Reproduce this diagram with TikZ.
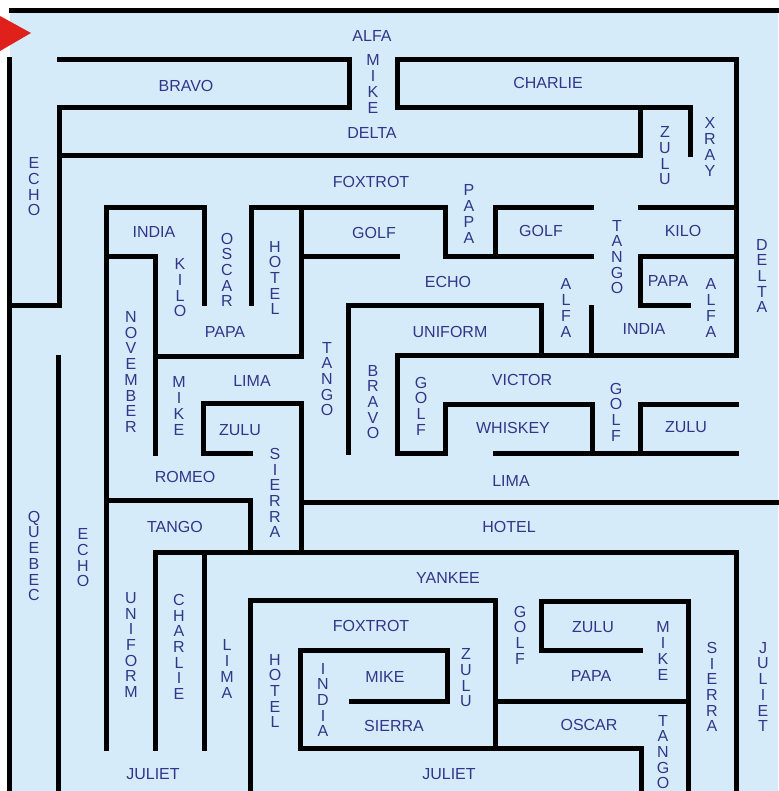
\documentclass[tikz,border=0pt]{standalone}
\usepackage{fontspec}
\setmainfont{Liberation Sans}
\definecolor{fond}{RGB}{214,235,249}
\definecolor{encre}{RGB}{48,54,138}
\definecolor{fleche}{RGB}{224,32,27}
\newcommand{\vlab}[3]{\node[lab,align=center] (#1) at (#2) {#3}}
\newcommand{\hlab}[3]{\node[lab] (#1) at (#2) {#3}}

\begin{document}
\begin{tikzpicture}[x=1pt,y=-1pt,
	wall/.style={line width=5pt,line cap=rect,line join=miter},
	lab/.style={text=encre,inner sep=0pt,font=\fontsize{16}{15.7}\selectfont}]
	\useasboundingbox (0,0) rectangle (778,791);
	\fill[fond] (10,11) rectangle (778,791);
	\fill[fleche] (0,16) -- (31,33) -- (0,51) -- cycle;
	% outer walls
	\draw[wall] (11,11) -- (778,11);
	\draw[wall] (9.5,60) -- (9.5,791);
	% top part
	\draw[wall] (59,60) -- (349,60) -- (349,108) -- (59,108) -- (59,305) -- (9.5,305);
	\draw[wall] (397,108) -- (397,60) -- (736,60) -- (736,355) -- (397,355) -- (397,453) -- (445,453) -- (445,404) -- (592,404) -- (592,453);
	\draw[wall] (397,108) -- (690,108) -- (690,155);
	\draw[wall] (640,108) -- (640,156) -- (59,156);
	% middle part
	\draw[wall] (204,303) -- (204,208) -- (106,208) -- (106,748);
	\draw[wall] (106,257) -- (155,257) -- (155,453);
	\draw[wall] (251,303) -- (251,208) -- (445,208) -- (445,257) -- (591,257);
	\draw[wall] (155,356) -- (301,356) -- (301,208);
	\draw[wall] (301,257) -- (397,257);
	\draw[wall] (591,208) -- (495,208) -- (495,257);
	\draw[wall] (640,208) -- (736,208);
	\draw[wall] (736,257) -- (640,257) -- (640,305) -- (688,305);
	\draw[wall] (348,452) -- (348,305) -- (541,305) -- (541,355);
	\draw[wall] (591,307) -- (591,355);
	\draw[wall] (495,453) -- (736,453);
	\draw[wall] (640,453) -- (640,404) -- (736,404);
	\draw[wall] (250,453) -- (203,453) -- (203,403) -- (301,403) -- (301,552);
	\draw[wall] (301,502) -- (778,502);
	\draw[wall] (106,500) -- (250,500) -- (250,552);
	% bottom part
	\draw[wall] (155,748) -- (155,552) -- (736,552) -- (736,791);
	\draw[wall] (58,357) -- (58,791);
	\draw[wall] (204,552) -- (204,748);
	\draw[wall] (250,791) -- (250,600) -- (495,600) -- (495,748);
	\draw[wall] (351,701) -- (447,701) -- (447,650) -- (300,650) -- (300,748) -- (641,748) -- (641,791);
	\draw[wall] (495,701) -- (688,701);
	\draw[wall] (640,650) -- (541,650) -- (541,601) -- (688,601) -- (688,791);
	% labels
	\hlab{alfa}{372,36}{ALFA};
	\vlab{mikeA}{373,84}{M\\I\\K\\E};
	\hlab{bravo}{186,86}{BRAVO};
	\hlab{charlie}{548,83}{CHARLIE};
	\hlab{deltaA}{372,133}{DELTA};
	\vlab{zuluA}{665,156}{Z\\U\\L\\U};
	\vlab{xray}{710,147}{X\\R\\A\\Y};
	\vlab{echoA}{34,187}{E\\C\\H\\O};
	\hlab{foxtrotA}{371,182}{FOXTROT};
	\vlab{papaA}{469,214}{P\\A\\P\\A};
	\hlab{india}{154,232}{INDIA};
	\vlab{oscar}{227,270}{O\\S\\C\\A\\R};
	\vlab{hotelA}{275,278}{H\\O\\T\\E\\L};
	\hlab{golfA}{374,233}{GOLF};
	\hlab{golfB}{541,231}{GOLF};
	\vlab{tangoA}{617,257}{T\\A\\N\\G\\O};
	\hlab{kiloA}{683,231}{KILO};
	\vlab{kiloB}{180,288}{K\\I\\L\\O};
	\vlab{deltaB}{762,276}{D\\E\\L\\T\\A};
	\hlab{echoB}{448,282}{ECHO};
	\hlab{papaB}{668,281}{PAPA};
	\vlab{alfaB}{566,308}{A\\L\\F\\A};
	\vlab{alfaC}{711,308}{A\\L\\F\\A};
	\hlab{papaC}{225,332}{PAPA};
	\hlab{uniformA}{450,332}{UNIFORM};
	\hlab{indiaB}{644,329}{INDIA};
	\vlab{november}{131,372}{N\\O\\V\\E\\M\\B\\E\\R};
	\vlab{mikeB}{179,406}{M\\I\\K\\E};
	\hlab{limaA}{252,381}{LIMA};
	\vlab{tangoB}{327,379}{T\\A\\N\\G\\O};
	\vlab{bravoB}{373,402}{B\\R\\A\\V\\O};
	\hlab{victor}{522,380}{VICTOR};
	\vlab{golfC}{421,406}{G\\O\\L\\F};
	\vlab{golfD}{616,412}{G\\O\\L\\F};
	\hlab{zuluB}{240,430}{ZULU};
	\hlab{whiskey}{513,428}{WHISKEY};
	\hlab{zuluC}{686,427}{ZULU};
	\hlab{romeo}{185,477}{ROMEO};
	\vlab{sierraA}{275,493}{S\\I\\E\\R\\R\\A};
	\hlab{limaB}{511,481}{LIMA};
	\hlab{tangoC}{175,527}{TANGO};
	\hlab{hotelB}{509,527}{HOTEL};
	\vlab{quebec}{34,556}{Q\\U\\E\\B\\E\\C};
	\vlab{echoC}{83,558}{E\\C\\H\\O};
	\hlab{yankee}{448,578}{YANKEE};
	\vlab{uniformB}{131,645}{U\\N\\I\\F\\O\\R\\M};
	\vlab{charlieB}{179,647}{C\\H\\A\\R\\L\\I\\E};
	\vlab{limaC}{227,669}{L\\I\\M\\A};
	\hlab{julietA}{153,774}{JULIET};
	\hlab{foxtrotB}{371,626}{FOXTROT};
	\vlab{hotelC}{275,691}{H\\O\\T\\E\\L};
	\vlab{indiaC}{323,700}{I\\N\\D\\I\\A};
	\hlab{mikeC}{385,677}{MIKE};
	\hlab{sierraB}{394,726}{SIERRA};
	\vlab{zuluD}{466,678}{Z\\U\\L\\U};
	\hlab{julietB}{449,774}{JULIET};
	\vlab{golfE}{520,635}{G\\O\\L\\F};
	\hlab{zuluE}{593,627}{ZULU};
	\vlab{mikeD}{663,651}{M\\I\\K\\E};
	\hlab{papaD}{591,676}{PAPA};
	\hlab{oscarB}{589,725}{OSCAR};
	\vlab{sierraC}{712,687}{S\\I\\E\\R\\R\\A};
	\vlab{julietC}{763,687}{J\\U\\L\\I\\E\\T};
	\vlab{tangoD}{663,752}{T\\A\\N\\G\\O};
\end{tikzpicture}
\end{document}
